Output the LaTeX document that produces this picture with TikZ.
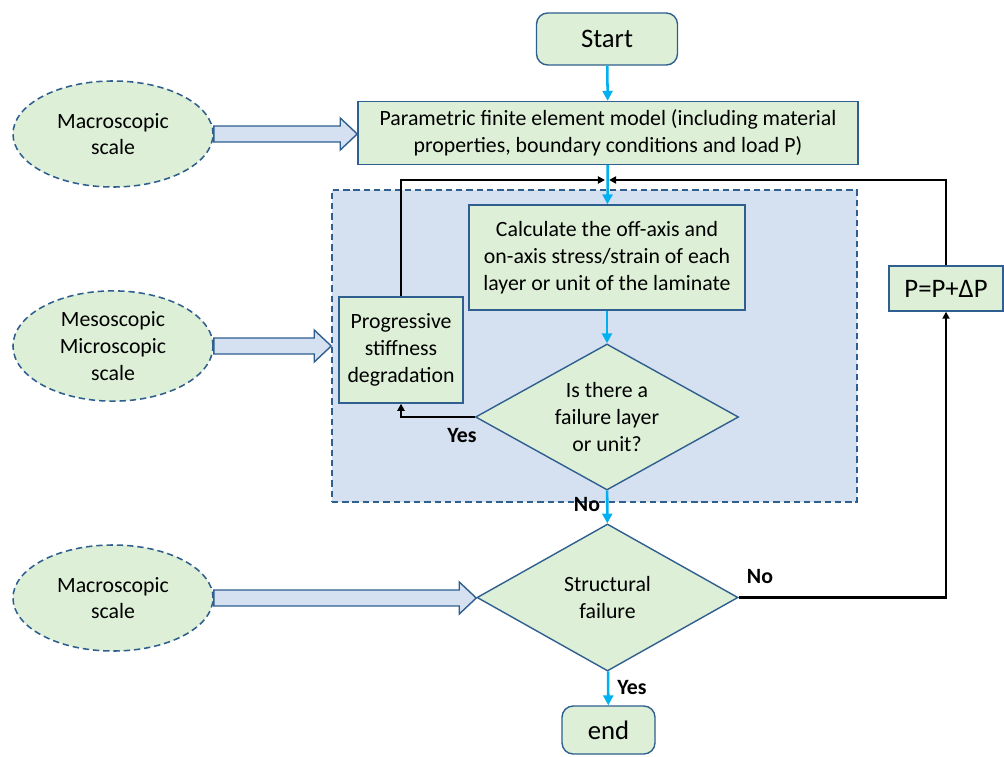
\documentclass[tikz,border=0pt]{standalone}
\usepackage{fontspec}
\setmainfont{Carlito}
\usetikzlibrary{calc}
\usetikzlibrary{arrows.meta}
\usetikzlibrary{shapes.geometric}

\definecolor{boxgreen}{HTML}{DDEFD6}
\definecolor{boxline}{HTML}{2F5F8F}
\definecolor{zoneblue}{HTML}{D5E1F1}
\definecolor{flowcyan}{HTML}{00B0F0}

\tikzset{
  every node/.style={font=\fontsize{15.5}{19}\selectfont, align=center},
  box/.style={draw=boxline, fill=boxgreen, line width=1pt, inner sep=2pt},
  term/.style={box, rounded corners=8pt, font=\fontsize{19}{22}\selectfont},
  choice/.style={box, diamond, inner sep=0pt, aspect=1.8},
  scalebub/.style={ellipse, draw=boxline, fill=boxgreen, line width=1.1pt,
    dash pattern=on 4.5pt off 2.8pt, minimum width=5cm, minimum height=2.65cm},
  zone/.style={draw=boxline, fill=zoneblue, line width=1pt, dash pattern=on 4.5pt off 2.8pt},
  flow/.style={flowcyan, line width=1.8pt, -{Triangle[length=7pt,width=7pt]}},
  back/.style={black, line width=1.8pt, -{Triangle[length=5pt,width=5pt]}},
  tag/.style={font=\fontsize{15.5}{17}\selectfont\bfseries},
  fat/.style={draw=boxline, fill=zoneblue, line width=1pt, line join=miter}
}
% block arrow from one node to another
\newcommand{\fatarrow}[2]{
 \draw[fat] ($(#1.east)+(0,-8)$) -- ($(#2.west |- #1.east)+(-17,-8)$)
   -- ($(#2.west |- #1.east)+(-17,-16)$) -- (#2.west |- #1.east)
   -- ($(#2.west |- #1.east)+(-17,16)$) -- ($(#2.west |- #1.east)+(-17,8)$)
   -- ($(#1.east)+(0,8)$) -- cycle;
}

\begin{document}
\begin{tikzpicture}[x=0.025cm, y=-0.025cm]
\useasboundingbox (0,0) rectangle (1004,756);

\node[zone, minimum width=13.125cm, minimum height=7.8cm] (stage) at (594.5,346) {};

\node[term, minimum width=3.525cm, minimum height=1.3cm] (start) at (607,39) {Start};
\node[box, minimum width=12.5cm, minimum height=1.575cm] (model) at (608,133)
 {Parametric finite element model (including material\\properties, boundary conditions and load P)};
\node[box, minimum width=6.9cm, minimum height=2.625cm] (calc) at (607,257.5)
 {Calculate the off-axis and\\on-axis stress/strain of each\\layer or unit of the laminate};
\node[box, minimum width=3.1cm, minimum height=2.65cm] (degrade) at (401,350)
 {Progressive\\stiffness\\degradation};
\node[choice, minimum width=6.575cm, minimum height=3.65cm] (check) at (607,417)
 {Is there a\\failure layer\\or unit?};
\node[choice, minimum width=6.525cm, minimum height=3.675cm] (structfail) at (607.5,597.5)
 {Structural\\failure};
\node[term, minimum width=2.325cm, minimum height=1.2cm] (finish) at (608.5,730) {end};
\node[box, minimum width=2.85cm, minimum height=1.125cm, font=\fontsize{19}{22}\selectfont] (load) at (946,288.5)
 {P=P+ΔP};

\node[scalebub] (macroa) at (113,134) {Macroscopic\\scale};
\node[scalebub] (meso) at (113,346) {Mesoscopic\\Microscopic\\scale};
\node[scalebub] (macrob) at (113,598) {Macroscopic\\scale};

\coordinate (join) at (607,180);

% scale arrows
\fatarrow{macroa}{model}
\fatarrow{meso}{stage}
\fatarrow{macrob}{structfail}

% main flow
\draw[flow] (start) -- (model);
\draw[flow] (model) -- (calc);
\draw[flow] (calc) -- (check);
\draw[flow] (check) -- (structfail);
\draw[flow] (structfail) -- (finish);

% loops
\draw[back] (check.west) -| (degrade.south);
\draw[back] (degrade.north) |- ($(join)+(-2,0)$);
\draw[back] (structfail.east) -| (load.south);
\draw[back] (load.north) |- ($(join)+(2,0)$);

\node[tag] (yesa) at (462,436) {Yes};
\node[tag] (noa) at (587,505) {No};
\node[tag] (nob) at (760,577) {No};
\node[tag] (yesb) at (632,688) {Yes};
\end{tikzpicture}
\end{document}
